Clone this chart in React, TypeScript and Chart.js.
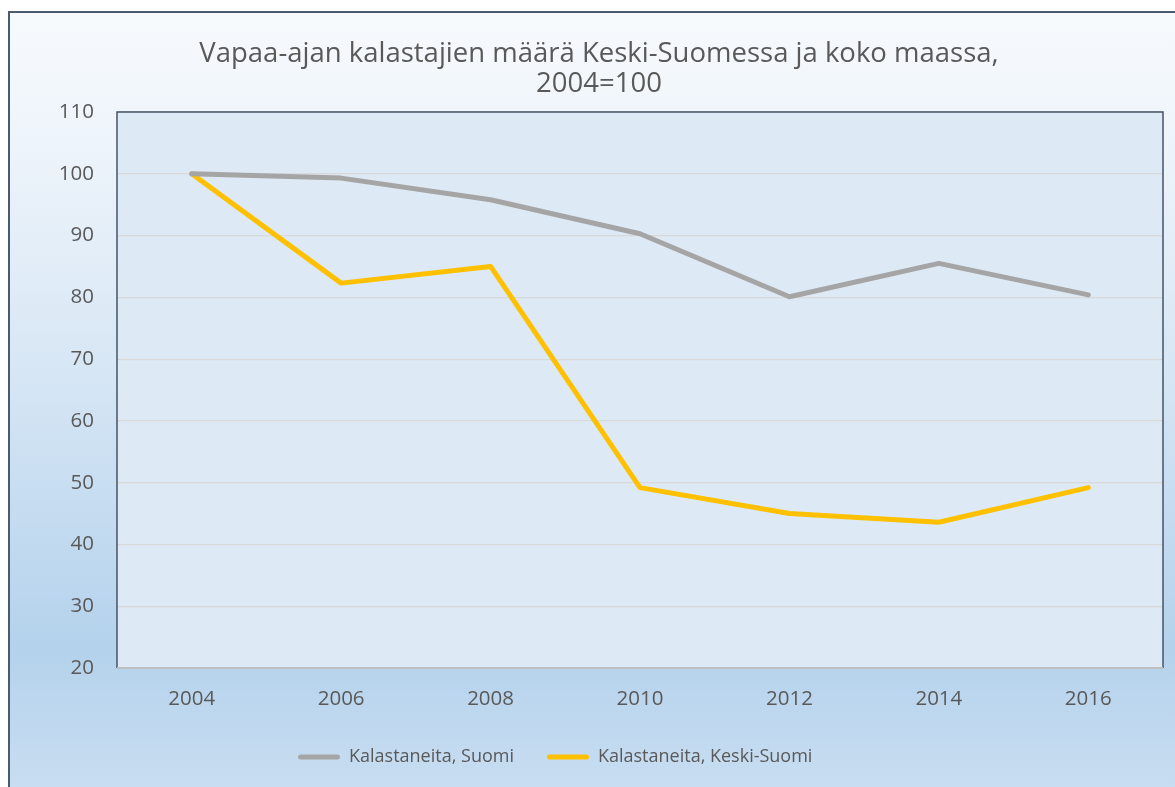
import React, { useEffect, useRef } from "react";
import { Chart, registerables } from "chart.js";

Chart.register(...registerables);

const years = ["2004", "2006", "2008", "2010", "2012", "2014", "2016"];
const suomi = [100, 99.3, 95.8, 90.3, 80.1, 85.5, 80.4];
const keskiSuomi = [100, 82.3, 85.0, 49.2, 45.0, 43.6, 49.2];
const seriesLabels = ["Kalastaneita, Suomi", "Kalastaneita, Keski-Suomi"];
const titleLines = ["Vapaa-ajan kalastajien määrä Keski-Suomessa ja koko maassa,", "2004=100"];
const yMin = 20;
const yMax = 110;
const yStep = 10;

const W = 1198;
const H = 787;
const FONT = "'Open Sans', 'Noto Sans', sans-serif";
const TEXT = "#595959";

const backgroundPlugin = {
  id: "bgFrame",
  beforeDraw(chart: any) {
    const { ctx, chartArea } = chart;
    ctx.save();
    ctx.fillStyle = "#ffffff";
    ctx.fillRect(0, 0, chart.width, chart.height);
    const g = ctx.createLinearGradient(0, 11, 0, 787);
    g.addColorStop(0, "#F7FAFD");
    g.addColorStop(0.15, "#EFF5FB");
    g.addColorStop(0.45, "#D8E7F5");
    g.addColorStop(0.82, "#B4D2EC");
    g.addColorStop(1, "#C8DDF1");
    ctx.fillStyle = g;
    ctx.fillRect(8, 11, chart.width + 20, chart.height + 20);
    ctx.strokeStyle = "#4A5A70";
    ctx.lineWidth = 2;
    ctx.beginPath();
    ctx.moveTo(9, chart.height + 10);
    ctx.lineTo(9, 12);
    ctx.lineTo(chart.width + 10, 12);
    ctx.stroke();
    ctx.fillStyle = "#DDE9F5";
    ctx.fillRect(chartArea.left, chartArea.top, chartArea.right - chartArea.left, chartArea.bottom - chartArea.top);
    ctx.restore();
  },
  beforeDatasetsDraw(chart: any) {
    const { ctx, chartArea } = chart;
    ctx.save();
    ctx.strokeStyle = "#44546A";
    ctx.lineWidth = 1.5;
    ctx.beginPath();
    ctx.moveTo(chartArea.left, chartArea.bottom);
    ctx.lineTo(chartArea.left, chartArea.top);
    ctx.lineTo(chartArea.right, chartArea.top);
    ctx.lineTo(chartArea.right, chartArea.bottom);
    ctx.stroke();
    ctx.strokeStyle = "#BFBFBF";
    ctx.lineWidth = 2;
    ctx.beginPath();
    ctx.moveTo(chartArea.left, chartArea.bottom);
    ctx.lineTo(chartArea.right, chartArea.bottom);
    ctx.stroke();
    ctx.restore();
  },
  afterLayout(chart: any) {
    const lg = chart.legend;
    if (lg) {
      const pad = lg.options.labels.padding;
      lg.left = 298 - pad;
    }
  },
};

export default function App() {
  const ref = useRef<HTMLCanvasElement | null>(null);

  useEffect(() => {
    if (!ref.current) return;
    const colors = ["#A5A5A5", "#FFC000"];
    const chart = new Chart(ref.current, {
      type: "line",
      data: {
        labels: years,
        datasets: [
          {
            label: seriesLabels[0],
            data: suomi,
            borderColor: colors[0],
            backgroundColor: colors[0],
            borderWidth: 5,
            pointRadius: 0,
            borderCapStyle: "round",
            borderJoinStyle: "round",
            tension: 0,
            fill: false,
          },
          {
            label: seriesLabels[1],
            data: keskiSuomi,
            borderColor: colors[1],
            backgroundColor: colors[1],
            borderWidth: 5,
            pointRadius: 0,
            borderCapStyle: "round",
            borderJoinStyle: "round",
            tension: 0,
            fill: false,
          },
        ],
      },
      options: {
        responsive: false,
        animation: false,
        devicePixelRatio: 1,
        layout: { padding: { left: 0, right: 0, top: 0, bottom: 11 } },
        plugins: {
          title: {
            display: true,
            text: titleLines,
            color: TEXT,
            font: { family: FONT, size: 27.5, weight: "normal", lineHeight: 30 / 27.5 },
            padding: { top: 39, bottom: 13 },
          },
          legend: {
            display: true,
            position: "bottom",
            align: "start",
            labels: {
              color: TEXT,
              font: { family: FONT, size: 18 },
              boxWidth: 42,
              boxHeight: 5,
              padding: 33,
              useBorderRadius: true,
              borderRadius: 2.5,
              generateLabels: (c: any) =>
                c.data.datasets.map((ds: any, i: number) => ({
                  text: ds.label,
                  fillStyle: ds.borderColor,
                  strokeStyle: ds.borderColor,
                  lineWidth: 0,
                  hidden: false,
                  datasetIndex: i,
                  borderRadius: 2.5,
                  fontColor: TEXT,
                })),
            },
          },
          tooltip: { enabled: false },
        },
        scales: {
          x: {
            type: "category",
            offset: true,
            grid: { display: false, drawTicks: false },
            border: { display: false },
            ticks: { color: TEXT, font: { family: FONT, size: 20.5 }, padding: 19, maxRotation: 0 },
            afterFit: (s: any) => {
              s.height = 47;
            },
          },
          y: {
            type: "linear",
            min: yMin,
            max: yMax,
            grid: { color: "#D9D9D9", lineWidth: 1.2, drawTicks: false },
            border: { display: false },
            ticks: { stepSize: yStep, color: TEXT, font: { family: FONT, size: 20.5 }, padding: 23 },
            afterFit: (s: any) => {
              s.width = 117;
            },
          },
          y2: {
            type: "linear",
            position: "right",
            display: true,
            grid: { display: false, drawTicks: false },
            border: { display: false },
            ticks: { display: false },
            afterFit: (s: any) => {
              s.width = 35;
            },
          },
        },
      },
      plugins: [backgroundPlugin],
    });
    return () => chart.destroy();
  }, []);

  return (
    <div style={{ position: "fixed", left: 0, top: 0, width: 1175, height: 787, overflow: "hidden", background: "#fff" }}>
      <canvas ref={ref} width={W} height={H} style={{ display: "block", width: W, height: H }} />
    </div>
  );
}
